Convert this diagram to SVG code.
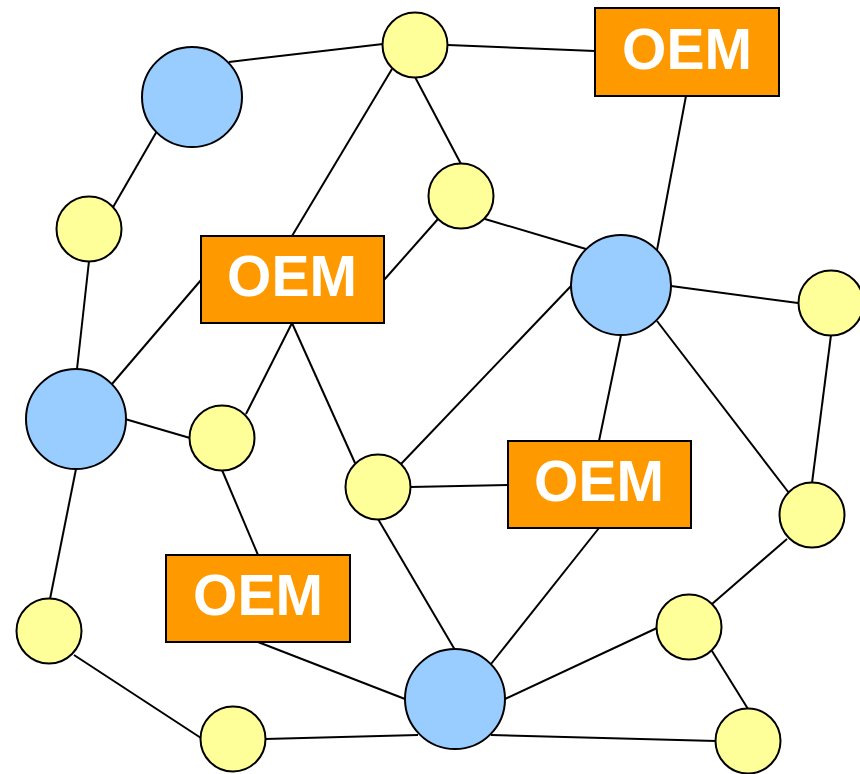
<svg xmlns="http://www.w3.org/2000/svg" width="860" height="774" viewBox="0 0 860 774">
  <style>
    .edge { stroke: #000; stroke-width: 2; fill: none; }
    .hub { fill: #99CCFF; stroke: #000; stroke-width: 2; }
    .leaf { fill: #FFFF99; stroke: #000; stroke-width: 2; }
    .oem rect { fill: #FF9900; stroke: #000; stroke-width: 2; }
    .oem text { fill: #fff; font-family: "Liberation Sans", Arial, sans-serif; font-weight: bold; font-size: 57px; text-anchor: middle; }
  </style>
  <rect width="860" height="774" fill="#fff"/>

  <!-- connectors, drawn rim to rim -->
  <g id="connectors">
    <line class="edge" x1="229" y1="62" x2="383" y2="44"/>
    <line class="edge" x1="448" y1="45" x2="595" y2="51"/>
    <line class="edge" x1="157" y1="131" x2="112" y2="209"/>
    <line class="edge" x1="392" y1="69" x2="292" y2="236"/>
    <line class="edge" x1="415" y1="77" x2="461" y2="164"/>
    <line class="edge" x1="686" y1="96" x2="657" y2="250"/>
    <line class="edge" x1="438" y1="219" x2="384" y2="280"/>
    <line class="edge" x1="485" y1="219" x2="586" y2="249"/>
    <line class="edge" x1="89" y1="261" x2="77" y2="369"/>
    <line class="edge" x1="201" y1="280" x2="112" y2="384"/>
    <line class="edge" x1="292" y1="323" x2="246" y2="414"/>
    <line class="edge" x1="292" y1="323" x2="355" y2="463"/>
    <line class="edge" x1="671" y1="286" x2="798" y2="303"/>
    <line class="edge" x1="571" y1="286" x2="401" y2="464"/>
    <line class="edge" x1="621" y1="335" x2="599" y2="441"/>
    <line class="edge" x1="657" y1="321" x2="789" y2="493"/>
    <line class="edge" x1="831" y1="335" x2="812" y2="483"/>
    <line class="edge" x1="125" y1="419" x2="190" y2="438"/>
    <line class="edge" x1="76" y1="469" x2="50" y2="599"/>
    <line class="edge" x1="222" y1="470" x2="258" y2="555"/>
    <line class="edge" x1="410" y1="487" x2="508" y2="485"/>
    <line class="edge" x1="378" y1="519" x2="455" y2="650"/>
    <line class="edge" x1="599" y1="528" x2="491" y2="664"/>
    <line class="edge" x1="787" y1="539" x2="712" y2="604"/>
    <line class="edge" x1="258" y1="642" x2="405" y2="699"/>
    <line class="edge" x1="505" y1="699" x2="657" y2="628"/>
    <line class="edge" x1="712" y1="651" x2="748" y2="709"/>
    <line class="edge" x1="491" y1="735" x2="716" y2="741"/>
    <line class="edge" x1="74" y1="655" x2="201" y2="738"/>
    <line class="edge" x1="265" y1="739" x2="418" y2="735"/>
  </g>

  <!-- hub nodes -->
  <g id="hub1"><circle class="hub" cx="192" cy="97" r="50"/></g>
  <g id="hub2"><circle class="hub" cx="76" cy="419" r="50"/></g>
  <g id="hub3"><circle class="hub" cx="621" cy="285" r="50"/></g>
  <g id="hub4"><circle class="hub" cx="455" cy="699" r="50"/></g>

  <!-- leaf nodes -->
  <g id="leaf1"><circle class="leaf" cx="415" cy="45" r="32.5"/></g>
  <g id="leaf2"><circle class="leaf" cx="89" cy="229" r="32.5"/></g>
  <g id="leaf3"><circle class="leaf" cx="461" cy="196" r="32.5"/></g>
  <g id="leaf4"><circle class="leaf" cx="831" cy="303" r="32.5"/></g>
  <g id="leaf5"><circle class="leaf" cx="222" cy="438" r="32.5"/></g>
  <g id="leaf6"><circle class="leaf" cx="378" cy="487" r="32.5"/></g>
  <g id="leaf7"><circle class="leaf" cx="812" cy="515" r="32.5"/></g>
  <g id="leaf8"><circle class="leaf" cx="49" cy="631" r="32.5"/></g>
  <g id="leaf9"><circle class="leaf" cx="689" cy="627" r="32.5"/></g>
  <g id="leaf10"><circle class="leaf" cx="233" cy="739" r="32.5"/></g>
  <g id="leaf11"><circle class="leaf" cx="748" cy="741" r="32.5"/></g>

  <!-- OEM boxes -->
  <g id="oem1" class="oem"><rect x="595" y="8" width="184" height="88"/><text x="687" y="69">OEM</text></g>
  <g id="oem2" class="oem"><rect x="201" y="236" width="183" height="87"/><text x="292" y="296">OEM</text></g>
  <g id="oem3" class="oem"><rect x="508" y="441" width="183" height="87"/><text x="599" y="501">OEM</text></g>
  <g id="oem4" class="oem"><rect x="166" y="555" width="184" height="87"/><text x="258" y="615">OEM</text></g>
</svg>
